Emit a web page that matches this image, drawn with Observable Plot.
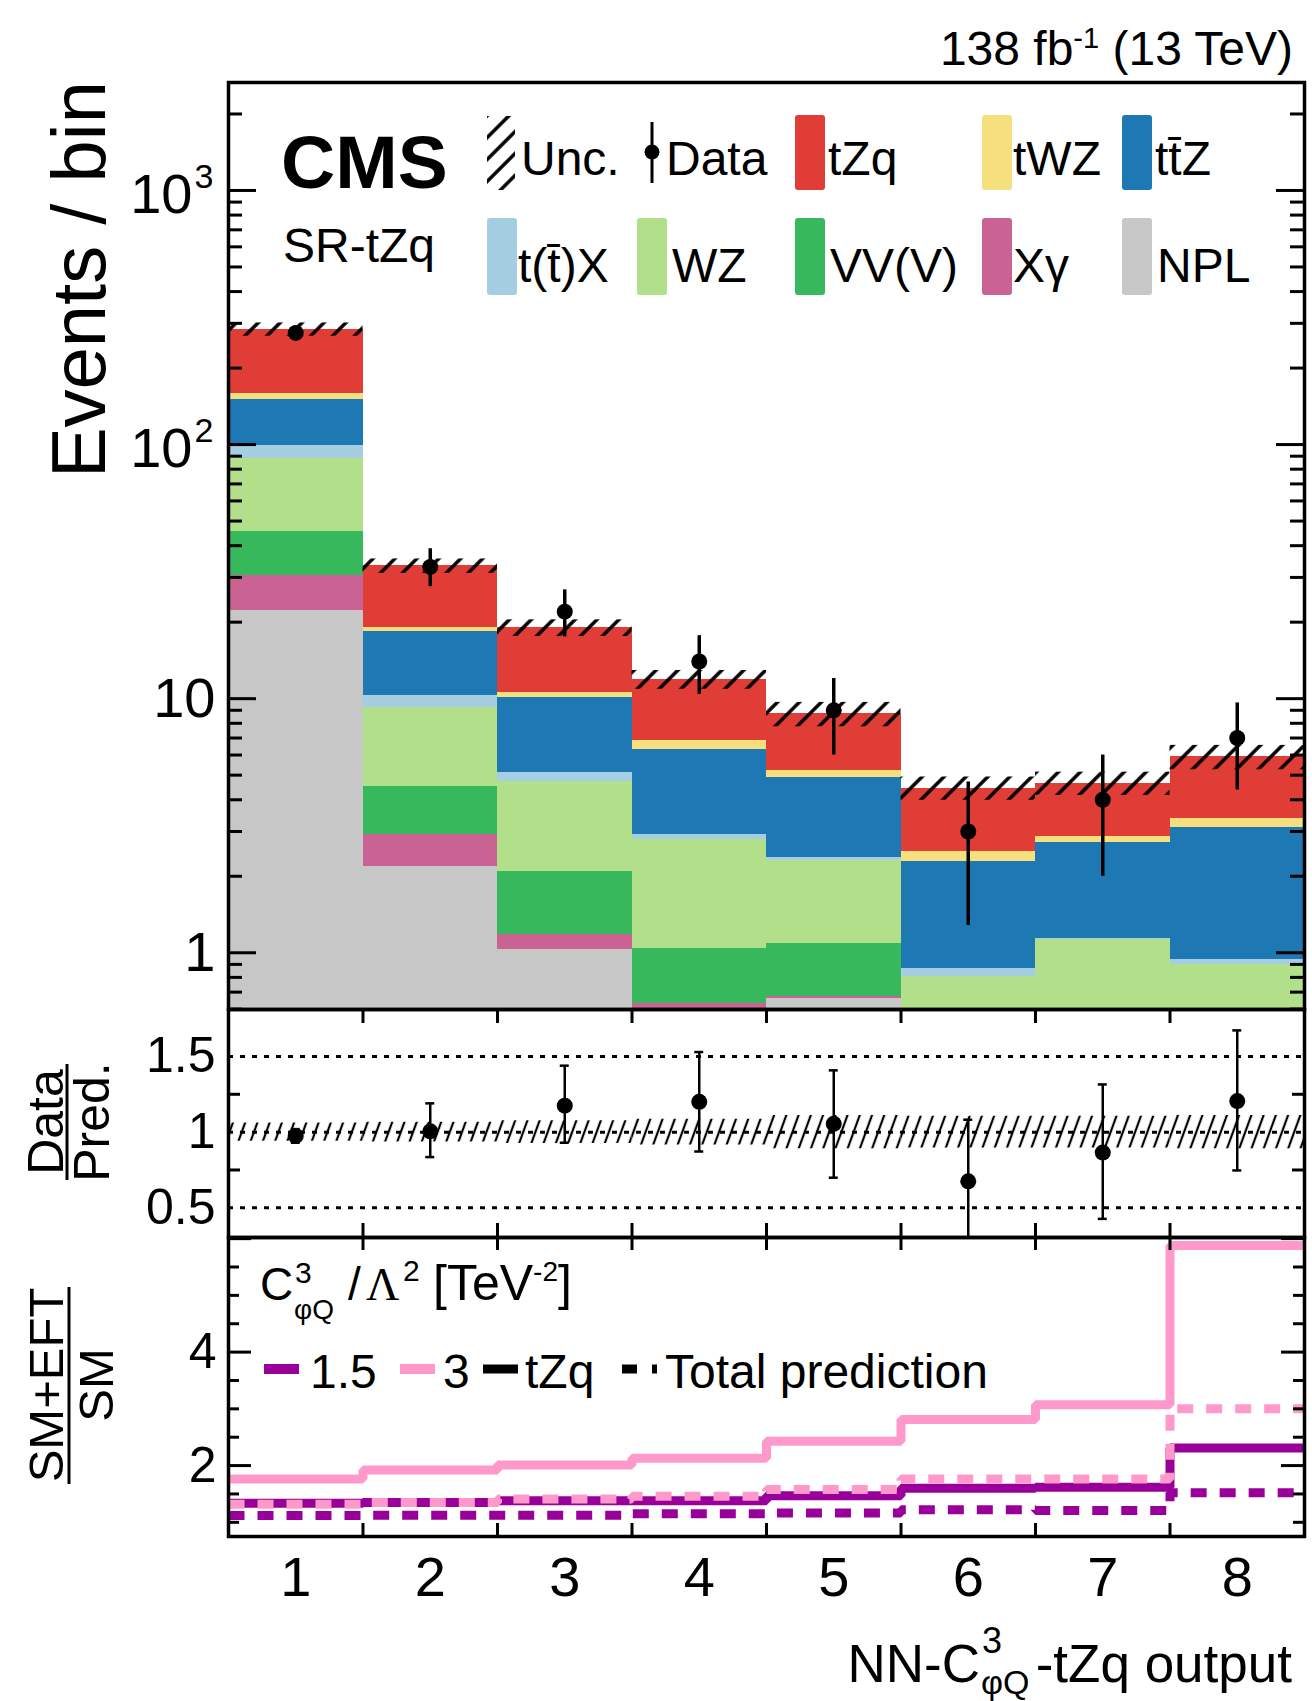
<!DOCTYPE html>
<html>
<head>
<meta charset="utf-8">
<script src="https://cdn.jsdelivr.net/npm/d3@7"></script>
<script src="https://cdn.jsdelivr.net/npm/@observablehq/plot@0.6"></script>
<style>
  html, body { margin: 0; padding: 0; background: #fff; }
  #page { position: relative; width: 1312px; height: 1701px; overflow: hidden; background: #fff; }
  .panel { position: absolute; left: 0; }
  .panel svg { display: block; }
  #overlay { position: absolute; left: 0; top: 0; }
  #overlay text { font-family: "Liberation Sans", Arial, Helvetica, sans-serif; fill: #000; }
</style>
</head>
<body>
<div id="page">
  <div id="p1" class="panel" style="top:0px"></div>
  <div id="p2" class="panel" style="top:1006px"></div>
  <div id="p3" class="panel" style="top:1234px"></div>
  <svg id="overlay" width="1312" height="1701" xmlns="http://www.w3.org/2000/svg">
    <defs>
      <pattern id="hatchMain" patternUnits="userSpaceOnUse" width="15.5" height="15.5" patternTransform="rotate(45)">
        <line x1="7.75" y1="0" x2="7.75" y2="15.5" stroke="#000" stroke-width="3.5"/>
      </pattern>
      <pattern id="hatchRatio" patternUnits="userSpaceOnUse" width="11.5" height="11.5" patternTransform="rotate(20)">
        <line x1="5.75" y1="0" x2="5.75" y2="11.5" stroke="#000" stroke-width="2.2"/>
      </pattern>
    </defs>
  </svg>
</div>
<script>
// ------------------------------------------------------------------
// DATA
// ------------------------------------------------------------------
const bins = [1, 2, 3, 4, 5, 6, 7, 8];
const binLabels = ["1", "2", "3", "4", "5", "6", "7", "8"];

// stacking order: bottom -> top
const procNames  = ["NPL", "Xγ", "VV(V)", "WZ", "t(t̄)X", "tt̄Z", "tWZ", "tZq"];
const procColors = ["#c7c7c7", "#ca6394", "#37b85d", "#b2df8a", "#a6cee3", "#1d78b4", "#f5e07d", "#e03d37"];

const npl    = [22.2, 2.18, 1.03, 0.45, 0.66, 0.15, 0.15, 0.12];
const xgamma = [8.3, 0.73, 0.15, 0.18, 0.01, 0.05, 0.05, 0.03];
const vvv    = [15.0, 1.60, 0.90, 0.41, 0.42, 0.30, 0.30, 0.30];
const wz     = [42.9, 4.72, 2.62, 1.74, 1.21, 0.31, 0.63, 0.45];
const ttx    = [10.9, 1.07, 0.44, 0.13, 0.07, 0.06, 0.01, 0.04];
const ttz    = [51.7, 8.1, 4.96, 3.41, 2.53, 1.42, 1.57, 2.18];
const twz    = [8.0, 0.7, 0.5, 0.5, 0.32, 0.21, 0.15, 0.26];
const tzq    = [125, 14.2, 8.4, 5.08, 3.49, 1.95, 1.79, 2.52];

const dataObs = [275, 33, 22, 14, 9, 3, 4, 7];
const dataLo  = [258, 27.6, 17.5, 10.4, 6.0, 1.28, 2.0, 4.37];
const dataHi  = [292, 38.9, 26.8, 17.7, 12.0, 4.70, 6.0, 9.62];

const relUnc = [0.06, 0.065, 0.075, 0.085, 0.11, 0.105, 0.105, 0.11];

const ratioVal = [0.975, 1.005, 1.175, 1.2, 1.055, 0.675, 0.865, 1.205];
const ratioLo  = [0.93, 0.835, 0.93, 0.872, 0.699, 0.28, 0.427, 0.747];
const ratioHi  = [1.02, 1.19, 1.439, 1.529, 1.408, 1.082, 1.315, 1.672];

// SM+EFT / SM
const eft15Tzq = [1.335, 1.35, 1.38, 1.38, 1.47, 1.60, 1.62, 2.31];
const eft15Tot = [1.12, 1.125, 1.125, 1.15, 1.165, 1.22, 1.21, 1.52];
const eft3Tzq  = [1.765, 1.92, 2.01, 2.13, 2.43, 2.81, 3.07, 5.88];
const eft3Tot  = [1.32, 1.35, 1.41, 1.46, 1.58, 1.765, 1.765, 3.0];

// tick labels
const logMajor = [1, 10, 100, 1000];
const logBase  = ["1", "10", "10", "10"];
const logExp   = ["", "", "2", "3"];
const ratioMajor = [0.5, 1, 1.5];
const ratioMajorLabels = ["0.5", "1", "1.5"];
const ratioMinor = [0.75, 1.25];
const eftMajor = [2, 4, 6];
const eftMajorLabels = ["2", "4", ""];
const eftMinor = [1, 1.5, 2.5, 3, 3.5, 4.5, 5, 5.5];

// ------------------------------------------------------------------
// GEOMETRY / STYLE
// ------------------------------------------------------------------
const FONT = '"Liberation Sans", Arial, Helvetica, sans-serif';
const W = 1312, ML = 228, MR = 8;
const pxPerX = (W - ML - MR) / 8;
const binEdges = [1.5, 2.5, 3.5, 4.5, 5.5, 6.5, 7.5];

const H1 = 1012, MT1 = 82, MB1 = 3;
const yDom1 = [0.598, 2660];
const H2 = 234, MT2 = 3, MB2 = 3;
const yDom2 = [0.304, 1.81];
const pxPerY2 = (H2 - MT2 - MB2) / (yDom2[1] - yDom2[0]);
const H3 = 467, MT3 = 3, MB3 = 165;
const yDom3 = [0.75, 6.02];
const pxPerY3 = (H3 - MT3 - MB3) / (yDom3[1] - yDom3[0]);

function yTicks(values, len, sw) {
  const d = len / pxPerX;
  return [
    Plot.ruleY(values, {y: v => v, x1: () => 0.5, x2: () => 0.5 + d, strokeWidth: sw}),
    Plot.ruleY(values, {y: v => v, x1: () => 8.5 - d, x2: () => 8.5, strokeWidth: sw})
  ];
}
function xTicks(top, bottom, lenPx, pxPerY, sw) {
  const d = lenPx / pxPerY;
  return [
    Plot.ruleX(binEdges, {x: v => v, y1: () => top, y2: () => top - d, strokeWidth: sw}),
    Plot.ruleX(binEdges, {x: v => v, y1: () => bottom, y2: () => bottom + d, strokeWidth: sw})
  ];
}

// ------------------------------------------------------------------
// PANEL 1 : stacked histogram
// ------------------------------------------------------------------
const series = [npl, xgamma, vvv, wz, ttx, ttz, twz, tzq];
const stackRows = [];
bins.forEach((b, i) => {
  let cum = 0;
  series.forEach((s, k) => {
    const lo = cum; cum += s[i];
    stackRows.push({bin: b, color: procColors[k], lo: Math.max(lo, 1e-3), hi: cum});
  });
});
const totals = bins.map((b, i) => series.reduce((a, s) => a + s[i], 0));
const uncRows = bins.map((b, i) => ({bin: b, lo: totals[i] * (1 - relUnc[i]), hi: totals[i] * (1 + relUnc[i])}));
const dataRows = bins.map((b, i) => ({bin: b, v: dataObs[i], lo: dataLo[i], hi: dataHi[i]}));

const logMinor = [];
for (const dec of [0.1, 1, 10, 100, 1000]) for (let m = 2; m <= 9; m++) {
  const v = m * dec; if (v > yDom1[0] && v < yDom1[1]) logMinor.push(v);
}

const p1 = Plot.plot({
  width: W, height: H1, marginTop: MT1, marginBottom: MB1, marginLeft: ML, marginRight: MR,
  style: {fontFamily: FONT, background: "transparent", overflow: "visible"},
  x: {domain: [0.5, 8.5], axis: null},
  y: {type: "log", domain: yDom1, axis: null, clamp: true},
  marks: [
    Plot.rect(stackRows, {x1: d => d.bin - 0.5, x2: d => d.bin + 0.5, y1: "lo", y2: "hi", fill: "color", shapeRendering: "crispEdges"}),
    Plot.rect(uncRows, {x1: d => d.bin - 0.5, x2: d => d.bin + 0.5, y1: "lo", y2: "hi", fill: "url(#hatchMain)"}),
    Plot.ruleX(dataRows, {x: "bin", y1: "lo", y2: "hi", strokeWidth: 3.5, stroke: "#000"}),
    Plot.dot(dataRows, {x: "bin", y: "v", r: 8, fill: "#000"}),
    ...yTicks(logMajor, 28, 3),
    ...yTicks(logMinor, 14, 3),
    Plot.text(logMajor.filter((d, i) => !logExp[i]), {y: d => d, text: d => logBase[logMajor.indexOf(d)], frameAnchor: "left", textAnchor: "end", lineAnchor: "middle", dx: -13, fontSize: 56}),
    Plot.text(logMajor.filter((d, i) => logExp[i]), {y: d => d, text: d => logBase[logMajor.indexOf(d)], frameAnchor: "left", textAnchor: "end", lineAnchor: "middle", dx: -36, dy: 5, fontSize: 56}),
    Plot.text(logMajor.filter((d, i) => logExp[i]), {y: d => d, text: d => logExp[logMajor.indexOf(d)], frameAnchor: "left", textAnchor: "start", lineAnchor: "middle", dx: -34, dy: -13, fontSize: 34}),
    Plot.frame({strokeWidth: 3.5})
  ]
});
document.getElementById("p1").appendChild(p1);

// ------------------------------------------------------------------
// PANEL 2 : Data / Pred.
// ------------------------------------------------------------------
const ratioRows = bins.map((b, i) => ({bin: b, v: ratioVal[i], lo: ratioLo[i], hi: ratioHi[i]}));
const capRows = [];
ratioRows.forEach(r => {
  for (const y of [r.lo, r.hi]) if (y > yDom2[0] && y < yDom2[1]) capRows.push({bin: r.bin, y});
});
const ratioBand = bins.map((b, i) => ({bin: b, lo: 1 - relUnc[i], hi: 1 + relUnc[i]}));

const p2 = Plot.plot({
  width: W, height: H2, marginTop: MT2, marginBottom: MB2, marginLeft: ML, marginRight: MR,
  style: {fontFamily: FONT, background: "transparent", overflow: "visible"},
  x: {domain: [0.5, 8.5], axis: null},
  y: {domain: yDom2, axis: null, clamp: true},
  marks: [
    Plot.rect(ratioBand, {x1: d => d.bin - 0.5, x2: d => d.bin + 0.5, y1: "lo", y2: "hi", fill: "url(#hatchRatio)"}),
    Plot.ruleY(ratioMajor, {y: d => d, strokeWidth: 3, strokeDasharray: "5,7"}),
    Plot.ruleX(ratioRows, {x: "bin", y1: "lo", y2: "hi", strokeWidth: 2.5}),
    Plot.ruleY(capRows, {y: "y", x1: d => d.bin - 4.5 / pxPerX, x2: d => d.bin + 4.5 / pxPerX, strokeWidth: 2.5}),
    Plot.dot(ratioRows, {x: "bin", y: "v", r: 8, fill: "#000"}),
    ...yTicks(ratioMinor, 12, 3),
    ...xTicks(yDom2[1], yDom2[0], 14, pxPerY2, 3),
    Plot.text(ratioMajor, {y: d => d, text: (d, i) => ratioMajorLabels[i], frameAnchor: "left", textAnchor: "end", lineAnchor: "middle", dx: -13, fontSize: 50}),
    Plot.frame({strokeWidth: 3.5})
  ]
});
document.getElementById("p2").appendChild(p2);

// ------------------------------------------------------------------
// PANEL 3 : SM+EFT / SM
// ------------------------------------------------------------------
const stepRows = vals => [...vals.map((v, i) => ({x: bins[i] - 0.5, y: v})), {x: bins[bins.length - 1] + 0.5, y: vals[vals.length - 1]}];
const PURPLE = "#990099", PINK = "#ff99cc";
const lineOpts = {x: "x", y: "y", curve: "step-after", strokeWidth: 9, strokeLinecap: "butt", strokeLinejoin: "miter"};

const p3 = Plot.plot({
  width: W, height: H3, marginTop: MT3, marginBottom: MB3, marginLeft: ML, marginRight: MR,
  style: {fontFamily: FONT, background: "transparent", overflow: "visible"},
  x: {domain: [0.5, 8.5], axis: null},
  y: {domain: yDom3, axis: null},
  marks: [
    Plot.line(stepRows(eft15Tzq), {...lineOpts, stroke: PURPLE}),
    Plot.line(stepRows(eft3Tzq), {...lineOpts, stroke: PINK}),
    Plot.line(stepRows(eft15Tot), {...lineOpts, stroke: PURPLE, strokeDasharray: "16,13"}),
    Plot.line(stepRows(eft3Tot), {...lineOpts, stroke: PINK, strokeDasharray: "16,13"}),
    ...yTicks(eftMajor, 23, 3),
    ...yTicks(eftMinor, 11, 3),
    ...xTicks(yDom3[1], yDom3[0], 13, pxPerY3, 3),
    Plot.text(eftMajor.filter((d, i) => eftMajorLabels[i]), {y: d => d, text: d => eftMajorLabels[eftMajor.indexOf(d)], frameAnchor: "left", textAnchor: "end", lineAnchor: "middle", dx: -12, fontSize: 50}),
    Plot.text(bins, {x: d => d, text: (d, i) => binLabels[i], frameAnchor: "bottom", lineAnchor: "bottom", dy: 59, fontSize: 56}),
    Plot.frame({strokeWidth: 3.5})
  ]
});
document.getElementById("p3").appendChild(p3);

// ------------------------------------------------------------------
// OVERLAY TEXT / LEGENDS
// ------------------------------------------------------------------
const ov = d3.select("#overlay");
function T(x, y, str, size, extra = {}) {
  const t = ov.append("text").attr("x", x).attr("y", y).attr("font-size", size).text(str);
  for (const k in extra) t.attr(k, extra[k]);
  return t;
}

// luminosity label
const lum = ov.append("text").attr("x", 1293).attr("y", 65).attr("font-size", 48).attr("text-anchor", "end");
lum.append("tspan").text("138 fb");
lum.append("tspan").attr("dy", -17).attr("font-size", 29).text("-1");
lum.append("tspan").attr("dy", 17).text(" (13 TeV)");

// y titles
T(0, 0, "Events / bin", 76, {transform: "translate(105,81) rotate(-90)", "text-anchor": "end"});
T(0, 0, "Data", 50, {transform: "translate(63,1122) rotate(-90)", "text-anchor": "middle"});
T(0, 0, "Pred.", 50, {transform: "translate(109,1122) rotate(-90)", "text-anchor": "middle"});
ov.append("line").attr("x1", 67).attr("x2", 67).attr("y1", 1064).attr("y2", 1180).attr("stroke", "#000").attr("stroke-width", 3);
T(0, 0, "SM+EFT", 49, {transform: "translate(63,1385) rotate(-90)", "text-anchor": "middle"});
T(0, 0, "SM", 49, {transform: "translate(113,1385) rotate(-90)", "text-anchor": "middle"});
ov.append("line").attr("x1", 69).attr("x2", 69).attr("y1", 1287).attr("y2", 1484).attr("stroke", "#000").attr("stroke-width", 3);

// CMS label
T(281, 188, "CMS", 75, {"font-weight": "bold"});
T(283, 262, "SR-tZq", 48);

// main legend
const legendLayout = [
  {kind: "unc", x: 487, row: 0, tx: 521, label: "Unc."},
  {kind: "data", x: 652, row: 0, tx: 666, label: "Data"},
  {kind: "box", x: 795, row: 0, tx: 828, proc: "tZq"},
  {kind: "box", x: 982, row: 0, tx: 1013, proc: "tWZ"},
  {kind: "box", x: 1122, row: 0, tx: 1155, proc: "tt̄Z"},
  {kind: "box", x: 487, row: 1, tx: 518, proc: "t(t̄)X"},
  {kind: "box", x: 637, row: 1, tx: 672, proc: "WZ"},
  {kind: "box", x: 795, row: 1, tx: 830, proc: "VV(V)"},
  {kind: "box", x: 982, row: 1, tx: 1013, proc: "Xγ"},
  {kind: "box", x: 1122, row: 1, tx: 1157, proc: "NPL"}
];
const rowBox = [{y: 115, h: 75, base: 175}, {y: 218, h: 77, base: 282}];
legendLayout.forEach(e => {
  const r = rowBox[e.row];
  if (e.kind === "box") {
    ov.append("rect").attr("x", e.x).attr("y", r.y).attr("width", 30).attr("height", r.h).attr("rx", 3)
      .attr("fill", procColors[procNames.indexOf(e.proc)]);
    T(e.tx, r.base, e.proc, 48);
  } else if (e.kind === "unc") {
    ov.append("rect").attr("x", e.x).attr("y", r.y + 1).attr("width", 28).attr("height", r.h - 1).attr("fill", "url(#hatchMain)");
    T(e.tx, r.base, e.label, 48);
  } else {
    ov.append("line").attr("x1", e.x).attr("x2", e.x).attr("y1", 122).attr("y2", 183).attr("stroke", "#000").attr("stroke-width", 3);
    ov.append("circle").attr("cx", e.x).attr("cy", 152).attr("r", 7.5).attr("fill", "#000");
    T(e.tx, r.base, e.label, 48);
  }
});

// EFT legend header: C^3_{φQ} /Λ^2 [TeV^-2]
T(260, 1300, "C", 46);
T(295, 1283, "3", 30);
T(294, 1319, "φQ", 28);
T(348, 1300, "/", 46);
T(366, 1300, "Λ", 46, {style: 'font-family:"Liberation Serif","Times New Roman",serif'});
T(403, 1281, "2", 30);
const tev = ov.append("text").attr("x", 433).attr("y", 1300).attr("font-size", 50);
tev.append("tspan").text("[TeV");
tev.append("tspan").attr("dy", -19).attr("font-size", 28).text("-2");
tev.append("tspan").attr("dy", 19).text("]");

// EFT legend entries
const eftLegend = [
  {x1: 264, x2: 299, stroke: PURPLE, dash: null, w: 10, tx: 310, label: "1.5"},
  {x1: 400, x2: 435, stroke: PINK, dash: null, w: 10, tx: 443, label: "3"},
  {x1: 483, x2: 518, stroke: "#000", dash: null, w: 9, tx: 525, label: "tZq"},
  {x1: 622, x2: 657, stroke: "#000", dash: "15,15", w: 9, tx: 665, label: "Total prediction"}
];
eftLegend.forEach(e => {
  const l = ov.append("line").attr("x1", e.x1).attr("x2", e.x2).attr("y1", 1369).attr("y2", 1369)
    .attr("stroke", e.stroke).attr("stroke-width", e.w);
  if (e.dash) l.attr("stroke-dasharray", e.dash);
  T(e.tx, 1388, e.label, 48);
});

// x-axis title
T(1292, 1682, "-tZq output", 53, {"text-anchor": "end"});
T(980, 1682, "NN-C", 53, {"text-anchor": "end"});
T(982, 1653, "3", 36);
T(981, 1694, "φQ", 34);
</script>
</body>
</html>
